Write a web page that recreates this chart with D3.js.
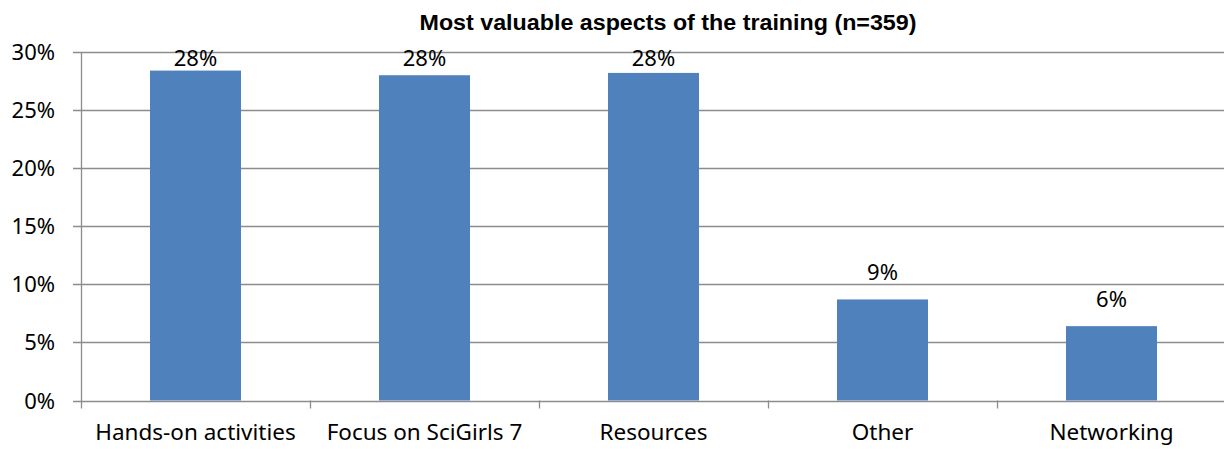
<!DOCTYPE html>
<html>
<head>
<meta charset="utf-8">
<script src="https://cdn.jsdelivr.net/npm/d3@7"></script>
<style>
body { margin: 0; background: #fff; }
text { font-family: "Noto Sans", "Open Sans", sans-serif; fill: #000; }
</style>
</head>
<body>
<script>
var categories = ["Hands-on activities", "Focus on SciGirls 7", "Resources", "Other", "Networking"];
var values = [28.4, 28.0, 28.2, 8.7, 6.4];
var valueLabels = ["28%", "28%", "28%", "9%", "6%"];
var yTicks = [0, 5, 10, 15, 20, 25, 30];
var title = "Most valuable aspects of the training (n=359)";

var width = 1224, height = 449;
var plotLeft = 81, plotRight = 1226, plotTop = 52, plotBottom = 400.5;
var fs = "22px";

var svg = d3.select("body").append("svg")
    .attr("width", width)
    .attr("height", height);

var xb = d3.scaleBand().domain(categories).range([plotLeft, plotRight]);
var y = d3.scaleLinear().domain([0, 30]).range([plotBottom, plotTop]);

// gridlines
svg.selectAll("line.grid")
    .data(yTicks)
    .enter()
    .append("line")
    .attr("x1", plotLeft - 8)
    .attr("x2", width)
    .attr("y1", function(d){ return Math.round(y(d)) + 0.5; })
    .attr("y2", function(d){ return Math.round(y(d)) + 0.5; })
    .attr("stroke", "#8c8c8c")
    .attr("stroke-width", 1.3);

// y labels
svg.selectAll("text.ylab")
    .data(yTicks)
    .enter()
    .append("text")
    .attr("x", 55)
    .attr("y", function(d){ return y(d) + 8; })
    .attr("text-anchor", "end")
    .style("font-size", fs)
    .text(function(d){ return d + "%"; });

// bars
svg.selectAll("rect.bar")
    .data(values)
    .enter()
    .append("rect")
    .attr("x", function(d, i){ return xb(categories[i]) + xb.bandwidth() / 2 - 45.5; })
    .attr("y", function(d){ return y(d); })
    .attr("width", 91)
    .attr("height", function(d){ return y(0) - y(d); })
    .attr("fill", "#4f81bd");

// value labels (pushed down when they would leave the plot)
svg.selectAll("text.vlab")
    .data(values)
    .enter()
    .append("text")
    .attr("x", function(d, i){ return xb(categories[i]) + xb.bandwidth() / 2; })
    .attr("y", function(d){ return Math.max(y(d) - 19, plotTop + 14); })
    .attr("text-anchor", "middle")
    .style("font-size", fs)
    .text(function(d, i){ return valueLabels[i]; });

// y axis line
svg.append("line")
    .attr("x1", plotLeft + 0.5).attr("x2", plotLeft + 0.5)
    .attr("y1", plotTop).attr("y2", plotBottom + 8)
    .attr("stroke", "#8c8c8c")
    .attr("stroke-width", 1.3);

// x category ticks
var bounds = categories.map(function(c){ return xb(c); }).slice(1);
svg.selectAll("line.xtick")
    .data(bounds)
    .enter()
    .append("line")
    .attr("x1", function(d){ return Math.round(d) + 0.5; })
    .attr("x2", function(d){ return Math.round(d) + 0.5; })
    .attr("y1", plotBottom)
    .attr("y2", plotBottom + 8)
    .attr("stroke", "#8c8c8c")
    .attr("stroke-width", 1.3);

// x labels
svg.selectAll("text.xlab")
    .data(categories)
    .enter()
    .append("text")
    .attr("x", function(d){ return xb(d) + xb.bandwidth() / 2; })
    .attr("y", 440)
    .attr("text-anchor", "middle")
    .style("font-size", "22.5px")
    .text(function(d){ return d; });

// title
svg.append("text")
    .attr("x", 668)
    .attr("y", 30)
    .attr("text-anchor", "middle")
    .attr("textLength", 497)
    .attr("lengthAdjust", "spacingAndGlyphs")
    .style("font-family", "'Liberation Sans Narrow', 'Arial Narrow', 'Liberation Sans', sans-serif")
    .style("font-weight", "bold")
    .style("font-size", "22px")
    .text(title);
</script>
</body>
</html>
